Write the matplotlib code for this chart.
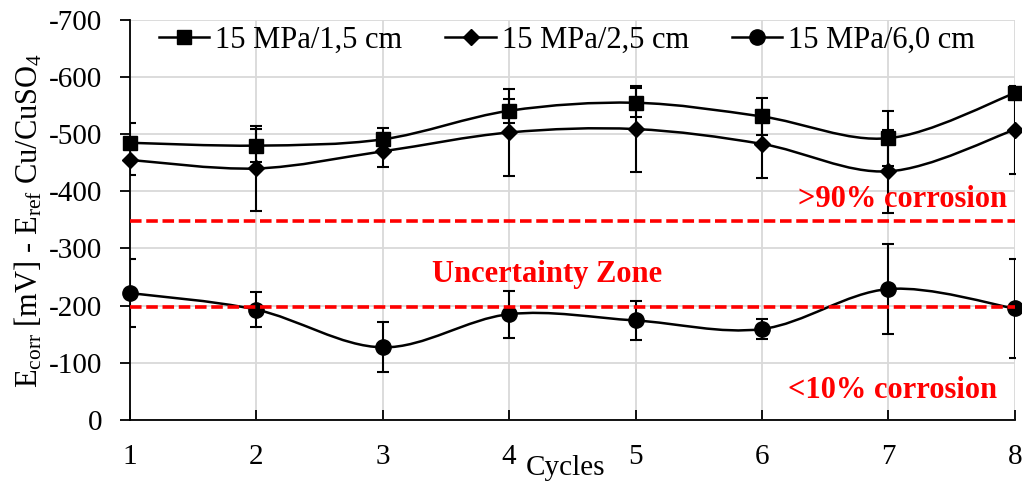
import numpy as np
import matplotlib
matplotlib.use("Agg")
import matplotlib.pyplot as plt
from matplotlib.path import Path
from matplotlib.patches import PathPatch
from matplotlib.lines import Line2D
from matplotlib.ticker import FuncFormatter

plt.rcParams["font.family"] = ["Liberation Serif", "DejaVu Serif"]
plt.rcParams["mathtext.fontset"] = "custom"
plt.rcParams["mathtext.rm"] = "Liberation Serif"
plt.rcParams["mathtext.it"] = "Liberation Serif:italic"

# data (values are negative potentials, plotted as magnitudes)
cycles = [1, 2, 3, 4, 5, 6, 7, 8]
labels = ["15 MPa/1,5 cm", "15 MPa/2,5 cm", "15 MPa/6,0 cm"]
e_15 = [485, 480, 491, 541, 555, 531, 493, 572]
err_15 = [35, 29, 19, 21, 25, 32, 48, 8]
e_25 = [455, 440, 470, 503, 509, 483, 435, 508]
err_25 = [26, 75, 28, 76, 76, 60, 73, 77]
e_60 = [222, 193, 127, 185, 174, 159, 229, 195]
err_60 = [60, 30, 44, 41, 34, 18, 78, 87]
limit_90 = 348
limit_10 = 197

markers = ["s", "D", "o"]
msizes = [10, 8.5, 11]


def smooth_path(x, y):
    # Excel-style smoothed line as cubic Bezier segments through the points
    pts = np.column_stack([x, y]).astype(float)
    ext = np.vstack([pts[0], pts, pts[-1]])
    verts = [pts[0]]
    codes = [Path.MOVETO]
    for i in range(len(pts) - 1):
        p0, p1, p2, p3 = ext[i], ext[i + 1], ext[i + 2], ext[i + 3]
        verts += [p1 + (p2 - p0) / 6, p2 - (p3 - p1) / 6, p2]
        codes += [Path.CURVE4] * 3
    return Path(verts, codes)


fig = plt.figure(figsize=(10.22, 4.86), dpi=100)
ax = fig.add_axes([0.127, 0.136, 0.866, 0.823])

handles = []
for vals, errs, m, ms, lab in zip([e_15, e_25, e_60], [err_15, err_25, err_60],
                                  markers, msizes, labels):
    ax.add_patch(PathPatch(smooth_path(cycles, vals), fill=False,
                           edgecolor="black", lw=1.8, zorder=3))
    ax.errorbar(cycles, vals, yerr=errs, fmt="none", ecolor="black",
                elinewidth=1.5, capsize=4, capthick=1.5, zorder=3)
    ax.plot(cycles, vals, ls="none", marker=m, ms=ms, color="black",
            zorder=4, clip_on=False)
    handles.append(Line2D([], [], color="black", lw=1.8, marker=m, ms=ms))

ax.plot([cycles[0], cycles[-1]], [limit_90, limit_90], color="red",
        lw=2.6, ls=(0, (3.2, 1.3)), zorder=5)
ax.plot([cycles[0], cycles[-1]], [limit_10, limit_10], color="red",
        lw=2.6, ls=(0, (3.2, 1.3)), zorder=5)

ax.text(7.94, 373, ">90% corrosion", color="red", fontsize=22,
        fontweight="bold", ha="right", va="baseline")
ax.text(4.30, 241, "Uncertainty Zone", color="red", fontsize=22,
        fontweight="bold", ha="center", va="baseline")
ax.text(7.86, 38, "<10% corrosion", color="red", fontsize=22,
        fontweight="bold", ha="right", va="baseline")

ax.set_xlim(1, 8)
ax.set_ylim(0, 700)
ax.set_xticks(cycles)
ax.set_yticks(range(0, 701, 100))
ax.yaxis.set_major_formatter(FuncFormatter(lambda v, p: "-%d" % v if v else "0"))
ax.grid(color="#d9d9d9", lw=1.3)
ax.set_axisbelow(True)
for s in ["top", "right"]:
    ax.spines[s].set_visible(False)
for s in ["left", "bottom"]:
    ax.spines[s].set_linewidth(1.3)
ax.tick_params(axis="y", direction="out", length=7, width=1.3, pad=13,
               labelsize=21)
ax.tick_params(axis="x", direction="in", length=7, width=1.3, pad=17,
               labelsize=21)

ax.set_ylabel(r"E$_{\mathrm{corr}}$ [mV] - E$_{\mathrm{ref}}$ Cu/CuSO$_4$",
              fontsize=22, labelpad=3)
ax.text(4.45, -0.12, "Cycles", fontsize=21, ha="center", va="center",
        transform=ax.get_xaxis_transform())

ax.legend(handles, labels, loc="center", bbox_to_anchor=(0.494, 0.95),
          ncol=3, frameon=False, fontsize=22, handlelength=1.65,
          handletextpad=0.2, columnspacing=1.4)

fig.savefig("out.png", dpi=100)
